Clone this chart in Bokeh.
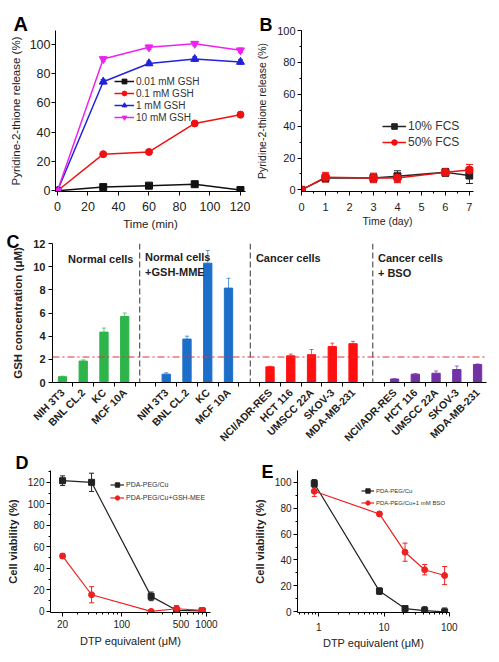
import math
from bokeh.plotting import figure
from bokeh.models import (ColumnDataSource, Range1d, FixedTicker, Whisker, TeeHead,
                          Label, Legend, LegendItem, Span, BasicTickFormatter)
from bokeh.layouts import column, row
from bokeh.embed import file_html
from bokeh.resources import INLINE

FONT = "Liberation Sans"

# ---------------- Panel A data ----------------
a_time = [0, 30, 60, 90, 120]
a_gsh001 = [0, 2.5, 3.5, 4.5, 0.5]
a_gsh001_err = [0.5, 1.0, 1.0, 1.0, 0.8]
a_gsh01 = [0, 25, 26.5, 46, 52]
a_gsh01_err = [0.5, 1.2, 1.5, 1.5, 2.0]
a_gsh1 = [0, 74.5, 87, 90, 88]
a_gsh1_err = [0.5, 1.5, 1.5, 1.5, 1.5]
a_gsh10 = [0, 90, 98, 100.5, 96]
a_gsh10_err = [0.5, 1.5, 1.5, 1.5, 1.5]
a_labels = ["0.01 mM GSH", "0.1 mM GSH", "1 mM GSH", "10 mM GSH"]

# ---------------- Panel B data ----------------
b_day = [0, 1, 3, 4, 6, 7]
b_fcs10 = [0, 7.5, 7.5, 8.5, 11, 9]
b_fcs10_err = [0.5, 2.5, 2.5, 3.5, 2.5, 5]
b_fcs50 = [0, 8, 7.5, 7.5, 11, 12.5]
b_fcs50_err = [0.5, 3, 3, 3, 2, 3.5]
b_labels = ["10% FCS", "50% FCS"]

# ---------------- Panel C data ----------------
c_normal_cells = ["NIH 3T3", "BNL CL.2", "KC", "MCF 10A"]
c_normal_vals = [0.5, 1.85, 4.35, 5.7]
c_normal_err = [0.05, 0.1, 0.35, 0.3]
c_mme_cells = ["NIH 3T3", "BNL CL.2", "KC", "MCF 10A"]
c_mme_vals = [0.72, 3.75, 10.3, 8.15]
c_mme_err = [0.12, 0.25, 1.1, 0.85]
c_cancer_cells = ["NCI/ADR-RES", "HCT 116", "UMSCC 22A", "SKOV-3", "MDA-MB-231"]
c_cancer_vals = [1.35, 2.3, 2.4, 3.1, 3.35]
c_cancer_err = [0.05, 0.15, 0.45, 0.3, 0.2]
c_bso_cells = ["NCI/ADR-RES", "HCT 116", "UMSCC 22A", "SKOV-3", "MDA-MB-231"]
c_bso_vals = [0.3, 0.72, 0.8, 1.12, 1.55]
c_bso_err = [0.03, 0.05, 0.2, 0.3, 0.05]
c_threshold = 2.2

# ---------------- Panel D data ----------------
d_conc = [20, 44, 222, 444, 888]
d_cu = [121.5, 120, 14, 1, 0.5]
d_cu_err = [4.5, 8.5, 4, 1, 1]
d_mee = [51.5, 15.5, 0, 2.5, 1]
d_mee_err = [2, 7.5, 1, 3, 2]
d_labels = ["PDA-PEG/Cu", "PDA-PEG/Cu+GSH-MEE"]

# ---------------- Panel E data ----------------
e_conc = [0.85, 8.5, 21, 42, 85]
e_cu = [99, 16, 2.5, 1, 0]
e_cu_err = [3, 2.5, 2, 3, 3]
e_bso = [93, 75.5, 46, 32.5, 28]
e_bso_err = [4, 1.5, 7, 4, 7]
e_labels = ["PDA-PEG/Cu", "PDA-PEG/Cu+1 mM BSO"]


def make_fig(w, h, xr, yr, bl, br, bt, bb, x_axis_type="linear"):
    p = figure(width=w, height=h, x_range=Range1d(*xr), y_range=Range1d(*yr),
               x_axis_type=x_axis_type, output_backend="svg", toolbar_location=None,
               min_border_left=bl, min_border_right=br, min_border_top=bt,
               min_border_bottom=bb)
    p.grid.visible = False
    p.outline_line_color = None
    p.background_fill_color = "white"
    return p


def style_axes(p, tick_size, label_size, tick_bold=False, label_bold=False,
               xstand=5, ystand=2, xlab_stand=4, ylab_stand=5):
    for ax in p.axis:
        ax.axis_line_color = "black"
        ax.axis_line_width = 1
        ax.major_tick_line_color = "black"
        ax.minor_tick_line_color = "black"
        ax.major_tick_out = 4
        ax.major_tick_in = 0
        ax.minor_tick_out = 2
        ax.minor_tick_in = 0
        ax.major_label_text_font = FONT
        ax.major_label_text_font_size = tick_size
        ax.major_label_text_color = "#222222"
        ax.major_label_text_font_style = "bold" if tick_bold else "normal"
        ax.axis_label_text_font = FONT
        ax.axis_label_text_font_size = label_size
        ax.axis_label_text_color = "#222222"
        ax.axis_label_text_font_style = "bold" if label_bold else "normal"
    p.xaxis.major_label_standoff = xstand
    p.yaxis.major_label_standoff = ystand
    p.xaxis.axis_label_standoff = xlab_stand
    p.yaxis.axis_label_standoff = ylab_stand


def letter(p, text, offset, standoff, size="18px"):
    p.title.text = text
    p.title.align = "left"
    p.title.offset = offset
    p.title.standoff = standoff
    p.title.vertical_align = "bottom"
    p.title.text_font = FONT
    p.title.text_font_size = size
    p.title.text_font_style = "bold"
    p.title.text_color = "black"


def series(p, x, y, err, color, marker, size, lw=1.5, head=5):
    src = ColumnDataSource(dict(x=x, y=y, lo=[v - e for v, e in zip(y, err)],
                                hi=[v + e for v, e in zip(y, err)]))
    r_line = p.line("x", "y", source=src, line_color=color, line_width=lw)
    p.add_layout(Whisker(source=src, base="x", lower="lo", upper="hi",
                         line_color=color, line_width=1,
                         lower_head=TeeHead(size=head, line_color=color, line_width=1),
                         upper_head=TeeHead(size=head, line_color=color, line_width=1)))
    r_mark = p.scatter("x", "y", source=src, marker=marker, size=size,
                       fill_color=color, line_color=color)
    return [r_line, r_mark]


def make_legend(p, labels, rends, loc, font_size, glyph_w, spacing, label_h):
    items = [LegendItem(label=l, renderers=r) for l, r in zip(labels, rends)]
    lg = Legend(items=items, location=loc, label_text_font=FONT,
                label_text_font_size=font_size, label_text_color="#333333",
                glyph_width=glyph_w, glyph_height=label_h, label_height=label_h,
                spacing=spacing, padding=0, margin=0, label_standoff=2,
                border_line_color=None, background_fill_alpha=0)
    p.add_layout(lg)


# ================= Panel A =================
pA = make_fig(250, 232, (-1.3, 123.3), (-0.5, 109.5), 55, 5, 30, 41)
pA.xaxis.ticker = FixedTicker(ticks=[0, 20, 40, 60, 80, 100, 120])
pA.yaxis.ticker = FixedTicker(ticks=[0, 20, 40, 60, 80, 100])
pA.xaxis.axis_label = "Time (min)"
pA.yaxis.axis_label = "Pyridine-2-thione release (%)"
style_axes(pA, "12.5px", "11.5px", xstand=6, ystand=1, xlab_stand=4, ylab_stand=5)
rA = [
    series(pA, a_time, a_gsh001, a_gsh001_err, "#111111", "square", 7),
    series(pA, a_time, a_gsh01, a_gsh01_err, "#ee1111", "circle", 7),
    series(pA, a_time, a_gsh1, a_gsh1_err, "#2222dd", "triangle", 8),
    series(pA, a_time, a_gsh10, a_gsh10_err, "#ee22ee", "inverted_triangle", 8),
]
make_legend(pA, a_labels, rA, (59, 68), "10px", 20, 0, 12)
letter(pA, "A", -42, -8, "20px")

# ================= Panel B =================
pB = make_fig(249, 232, (0, 7.17), (-1, 100), 51, 26, 28, 37)
pB.xaxis.ticker = FixedTicker(ticks=list(range(0, 8)),
                              minor_ticks=[i * 0.5 for i in range(0, 15)])
pB.yaxis.ticker = FixedTicker(ticks=[0, 20, 40, 60, 80, 100],
                              minor_ticks=list(range(0, 101, 10)))
pB.xaxis.axis_label = "Time (day)"
pB.yaxis.axis_label = "Pyridine-2-thione release (%)"
style_axes(pB, "11px", "10.5px", xstand=7, ystand=2, xlab_stand=1, ylab_stand=6)
rB = [
    series(pB, b_day, b_fcs10, b_fcs10_err, "#222222", "square", 7, head=7),
    series(pB, b_day, b_fcs50, b_fcs50_err, "#ee1111", "circle", 8, head=7),
]
make_legend(pB, b_labels, rB, (81, 42), "12px", 24, 2, 14)
letter(pB, "B", -42, -8, "18px")

# ================= Panel C =================
groups = [
    (c_normal_cells, c_normal_vals, c_normal_err, "#2db54b"),
    (c_mme_cells, c_mme_vals, c_mme_err, "#1c6fc8"),
    (c_cancer_cells, c_cancer_vals, c_cancer_err, "#ff1010"),
    (c_bso_cells, c_bso_vals, c_bso_err, "#7232a6"),
]
pC = make_fig(499, 220, (-0.48, 20.43), (0, 12), 52, 13, 11, 70)
ticks, overrides, minors, seps = [], {}, [], []
pos = 0
for gi, (cells, vals, errs, col) in enumerate(groups):
    xs = [pos + i for i in range(len(cells))]
    src = ColumnDataSource(dict(x=xs, top=vals, hi=[v + e for v, e in zip(vals, errs)]))
    pC.vbar(x="x", top="top", width=0.4, source=src, fill_color=col, line_color=col)
    pC.add_layout(Whisker(source=src, base="x", lower="top", upper="hi",
                          line_color=col, line_alpha=0.7, line_width=1,
                          lower_head=None,
                          upper_head=TeeHead(size=4, line_color=col, line_alpha=0.7)))
    for x, c in zip(xs, cells):
        ticks.append(x)
        overrides[x] = c
        minors.extend([x - 0.5, x + 0.5])
    pos += len(cells) + 1
    if gi < len(groups) - 1:
        seps.append(pos - 1)
pC.xaxis.ticker = FixedTicker(ticks=ticks, minor_ticks=sorted(set(minors)))
pC.xaxis.major_label_overrides = overrides
pC.xaxis.major_label_orientation = math.pi / 4
pC.yaxis.ticker = FixedTicker(ticks=[0, 2, 4, 6, 8, 10, 12])
pC.yaxis.axis_label = "GSH concentration (μM)"
style_axes(pC, "10.5px", "11.5px", tick_bold=True, label_bold=True,
           xstand=4, ystand=3, ylab_stand=6)
pC.yaxis.major_label_text_font_size = "11px"
pC.xaxis.major_tick_out = 0
pC.xaxis.minor_tick_out = 4
sep_shift = [-0.28, 0.05, -0.05]
for s, d in zip(seps, sep_shift):
    pC.add_layout(Span(location=s + d, dimension="height", line_color="#555555",
                       line_dash="6 3", line_width=1.2))
pC.add_layout(Span(location=c_threshold, dimension="width", line_color="#e0303a",
                   line_dash="7 3 2 3", line_width=1.2))
group_text = [("Normal cells", 0.27, 10.68), ("Normal cells", 3.98, 10.83),
              ("+GSH-MME", 3.98, 9.52), ("Cancer cells", 9.32, 10.73),
              ("Cancer cells", 15.2, 10.73), ("+ BSO", 15.2, 9.47)]
for t, x, y in group_text:
    pC.add_layout(Label(x=x, y=y, text=t, text_font=FONT, text_font_size="11px",
                        text_font_style="bold", text_baseline="middle",
                        text_align="left", text_color="#222222"))
letter(pC, "C", -46, -16, "18px")

# ================= Panel D =================
pD = make_fig(250, 210, (14.4, 1115), (-1, 131), 50, 40, 18, 49, x_axis_type="log")
d_minor = [30, 40, 50, 60, 70, 80, 90, 200, 300, 400, 600, 700, 800, 900]
pD.xaxis.ticker = FixedTicker(ticks=[20, 100, 500, 1000], minor_ticks=d_minor)
pD.xaxis.formatter = BasicTickFormatter(use_scientific=False)
pD.yaxis.ticker = FixedTicker(ticks=[0, 20, 40, 60, 80, 100, 120],
                              minor_ticks=list(range(0, 131, 10)))
pD.xaxis.axis_label = "DTP equivalent (μM)"
pD.yaxis.axis_label = "Cell viability (%)"
style_axes(pD, "10px", "11px", label_bold=False, xstand=3, ystand=2,
           xlab_stand=4, ylab_stand=6)
pD.yaxis.axis_label_text_font_style = "bold"
rD = [
    series(pD, d_conc, d_cu, d_cu_err, "#222222", "square", 6, lw=1.2),
    series(pD, d_conc, d_mee, d_mee_err, "#ee2020", "circle", 6, lw=1.2),
]
make_legend(pD, d_labels, rD, (60, 109), "7px", 14, 2, 11)
letter(pD, "D", -35, -4, "18px")

# ================= Panel E =================
pE = make_fig(249, 210, (0.47, 101), (-0.5, 109), 46, 50, 18, 50, x_axis_type="log")
e_minor = [0.5, 0.6, 0.7, 0.8, 0.9, 2, 3, 4, 5, 6, 7, 8, 9,
           20, 30, 40, 50, 60, 70, 80, 90]
pE.xaxis.ticker = FixedTicker(ticks=[1, 10, 100], minor_ticks=e_minor)
pE.xaxis.formatter = BasicTickFormatter(use_scientific=False)
pE.yaxis.ticker = FixedTicker(ticks=[0, 20, 40, 60, 80, 100],
                              minor_ticks=list(range(0, 101, 10)))
pE.xaxis.axis_label = "DTP equivalent (μM)"
pE.yaxis.axis_label = "Cell viability (%)"
style_axes(pE, "10px", "11px", xstand=6, ystand=2, xlab_stand=3, ylab_stand=6)
pE.yaxis.axis_label_text_font_style = "bold"
rE = [
    series(pE, e_conc, e_cu, e_cu_err, "#222222", "square", 6, lw=1.2),
    series(pE, e_conc, e_bso, e_bso_err, "#ee2020", "circle", 6, lw=1.2),
]
make_legend(pE, e_labels, rE, (64, 104), "6px", 13, 1, 11)
letter(pE, "E", -36, -22, "18px")

layout = column(row(pA, pB), pC, row(pD, pE))
open("out.html", "w").write(file_html(layout, INLINE))
